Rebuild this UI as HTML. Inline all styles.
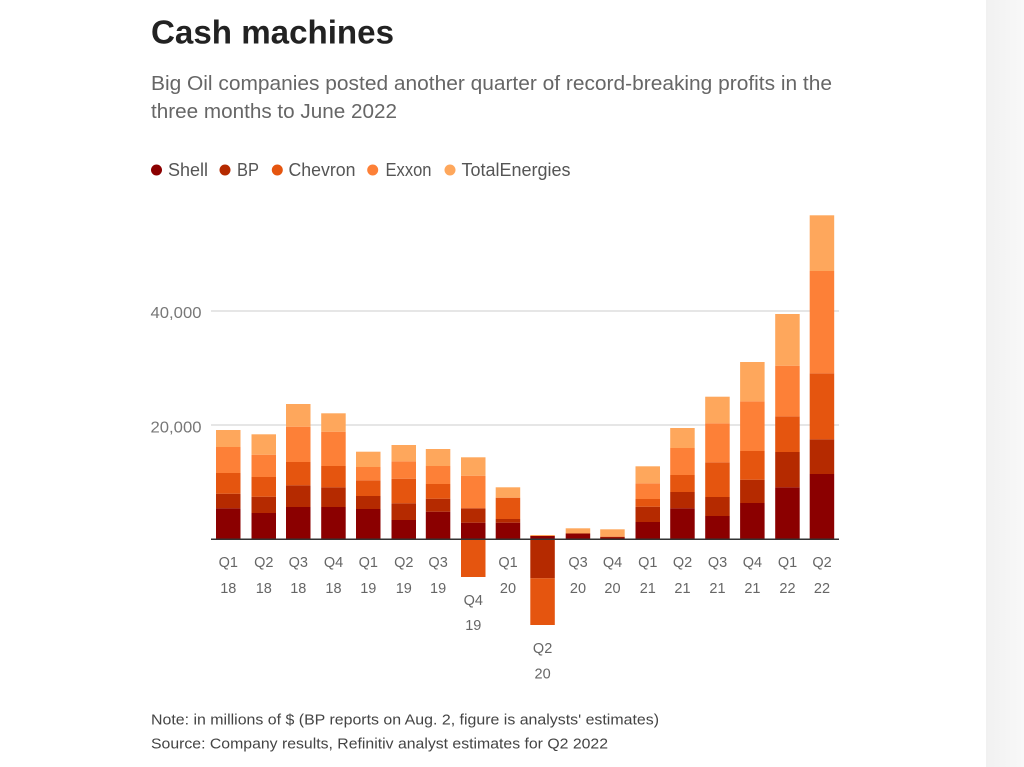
<!DOCTYPE html>
<html><head><meta charset="utf-8"><style>
html,body{margin:0;padding:0;background:#fff;}
body{width:1024px;height:767px;overflow:hidden;position:relative;}
svg{position:absolute;left:0;top:0;}
text{font-family:"Liberation Sans",sans-serif;}
</style></head><body>
<svg width="1024" height="767" viewBox="0 0 1024 767" xmlns="http://www.w3.org/2000/svg">
<defs><linearGradient id="g" x1="0" x2="1" y1="0" y2="0"><stop offset="0" stop-color="#f1f1f1"/><stop offset="1" stop-color="#f8f8f8"/></linearGradient></defs>
<rect x="986" y="0" width="38" height="767" fill="url(#g)"/>
<text x="151" y="43.5" font-size="33" font-weight="bold" fill="#222" textLength="243" lengthAdjust="spacingAndGlyphs">Cash machines</text>
<text x="151" y="90" font-size="20" fill="#666" textLength="681" lengthAdjust="spacingAndGlyphs">Big Oil companies posted another quarter of record-breaking profits in the</text>
<text x="151" y="118" font-size="20" fill="#666" textLength="246" lengthAdjust="spacingAndGlyphs">three months to June 2022</text>
<g font-size="18" fill="#555">
<circle cx="156.5" cy="170" r="5.5" fill="#8b0000"/><text x="168" y="176" textLength="40" lengthAdjust="spacingAndGlyphs">Shell</text>
<circle cx="225" cy="170" r="5.5" fill="#b52a00"/><text x="237" y="176" textLength="22" lengthAdjust="spacingAndGlyphs">BP</text>
<circle cx="277.3" cy="170" r="5.5" fill="#e5550f"/><text x="288.5" y="176" textLength="67" lengthAdjust="spacingAndGlyphs">Chevron</text>
<circle cx="372.7" cy="170" r="5.5" fill="#fd8037"/><text x="385.5" y="176" textLength="46" lengthAdjust="spacingAndGlyphs">Exxon</text>
<circle cx="450" cy="170" r="5.5" fill="#fea75c"/><text x="461.5" y="176" textLength="109" lengthAdjust="spacingAndGlyphs">TotalEnergies</text>
</g>
<line x1="211" y1="311" x2="839" y2="311" stroke="#cccccc" stroke-width="1"/>
<line x1="211" y1="425" x2="839" y2="425" stroke="#cccccc" stroke-width="1"/>
<g font-size="16" fill="#777" text-anchor="end">
<text x="201.5" y="318" textLength="51" lengthAdjust="spacingAndGlyphs">40,000</text>
<text x="201.5" y="432.5" textLength="51" lengthAdjust="spacingAndGlyphs">20,000</text>
</g>
<g>
<!-- Q1 18 -->
<rect x="216" y="508.3" width="24.5" height="30.7" fill="#8b0000"/>
<rect x="216" y="493.7" width="24.5" height="14.6" fill="#b52a00"/>
<rect x="216" y="473" width="24.5" height="20.7" fill="#e5550f"/>
<rect x="216" y="447" width="24.5" height="26" fill="#fd8037"/>
<rect x="216" y="430" width="24.5" height="17" fill="#fea75c"/>
<!-- Q2 18 -->
<rect x="251.5" y="513" width="24.5" height="26" fill="#8b0000"/>
<rect x="251.5" y="496.7" width="24.5" height="16.3" fill="#b52a00"/>
<rect x="251.5" y="477" width="24.5" height="19.7" fill="#e5550f"/>
<rect x="251.5" y="454.7" width="24.5" height="22.3" fill="#fd8037"/>
<rect x="251.5" y="434.3" width="24.5" height="20.4" fill="#fea75c"/>
<!-- Q3 18 -->
<rect x="286" y="507" width="24.5" height="32" fill="#8b0000"/>
<rect x="286" y="485.3" width="24.5" height="21.7" fill="#b52a00"/>
<rect x="286" y="462" width="24.5" height="23.3" fill="#e5550f"/>
<rect x="286" y="426.7" width="24.5" height="35.3" fill="#fd8037"/>
<rect x="286" y="404" width="24.5" height="22.7" fill="#fea75c"/>
<!-- Q4 18 -->
<rect x="321.2" y="507" width="24.5" height="32" fill="#8b0000"/>
<rect x="321.2" y="487.3" width="24.5" height="19.7" fill="#b52a00"/>
<rect x="321.2" y="466" width="24.5" height="21.3" fill="#e5550f"/>
<rect x="321.2" y="431.7" width="24.5" height="34.3" fill="#fd8037"/>
<rect x="321.2" y="413.3" width="24.5" height="18.4" fill="#fea75c"/>
<!-- Q1 19 -->
<rect x="356" y="509" width="24.5" height="30" fill="#8b0000"/>
<rect x="356" y="496" width="24.5" height="13" fill="#b52a00"/>
<rect x="356" y="480.3" width="24.5" height="15.7" fill="#e5550f"/>
<rect x="356" y="467" width="24.5" height="13.3" fill="#fd8037"/>
<rect x="356" y="451.7" width="24.5" height="15.3" fill="#fea75c"/>
<!-- Q2 19 -->
<rect x="391.5" y="520" width="24.5" height="19" fill="#8b0000"/>
<rect x="391.5" y="503.3" width="24.5" height="16.7" fill="#b52a00"/>
<rect x="391.5" y="478.7" width="24.5" height="24.6" fill="#e5550f"/>
<rect x="391.5" y="461.3" width="24.5" height="17.4" fill="#fd8037"/>
<rect x="391.5" y="445" width="24.5" height="16.3" fill="#fea75c"/>
<!-- Q3 19 -->
<rect x="425.8" y="511.7" width="24.5" height="27.3" fill="#8b0000"/>
<rect x="425.8" y="498.7" width="24.5" height="13" fill="#b52a00"/>
<rect x="425.8" y="484" width="24.5" height="14.7" fill="#e5550f"/>
<rect x="425.8" y="466" width="24.5" height="18" fill="#fd8037"/>
<rect x="425.8" y="449" width="24.5" height="17" fill="#fea75c"/>
<!-- Q4 19 -->
<rect x="461" y="522.7" width="24.5" height="16.3" fill="#8b0000"/>
<rect x="461" y="508.3" width="24.5" height="14.4" fill="#b52a00"/>
<rect x="461" y="475.7" width="24.5" height="32.6" fill="#fd8037"/>
<rect x="461" y="457.3" width="24.5" height="18.4" fill="#fea75c"/>
<rect x="461" y="539" width="24.5" height="38" fill="#e5550f"/>
<!-- Q1 20 -->
<rect x="495.7" y="522.7" width="24.5" height="16.3" fill="#8b0000"/>
<rect x="495.7" y="519" width="24.5" height="3.7" fill="#b52a00"/>
<rect x="495.7" y="497.7" width="24.5" height="21.3" fill="#e5550f"/>
<rect x="495.7" y="487.3" width="24.5" height="10.4" fill="#fea75c"/>
<!-- Q2 20 -->
<rect x="530.3" y="536" width="24.5" height="3" fill="#8b0000"/>
<rect x="530.3" y="535" width="24.5" height="1" fill="#fea75c"/>
<rect x="530.3" y="539" width="24.5" height="39.3" fill="#b52a00"/>
<rect x="530.3" y="578.3" width="24.5" height="46.7" fill="#e5550f"/>
<!-- Q3 20 -->
<rect x="565.7" y="533.5" width="24.5" height="5.5" fill="#8b0000"/>
<rect x="565.7" y="528.3" width="24.5" height="5.2" fill="#fea75c"/>
<!-- Q4 20 -->
<rect x="600.2" y="537.5" width="24.5" height="1.5" fill="#8b0000"/>
<rect x="600.2" y="536.7" width="24.5" height="0.8" fill="#b52a00"/>
<rect x="600.2" y="529.3" width="24.5" height="7.4" fill="#fea75c"/>
<!-- Q1 21 -->
<rect x="635.5" y="522" width="24.5" height="17" fill="#8b0000"/>
<rect x="635.5" y="506.7" width="24.5" height="15.3" fill="#b52a00"/>
<rect x="635.5" y="499" width="24.5" height="7.7" fill="#e5550f"/>
<rect x="635.5" y="483.3" width="24.5" height="15.7" fill="#fd8037"/>
<rect x="635.5" y="466.3" width="24.5" height="17" fill="#fea75c"/>
<!-- Q2 21 -->
<rect x="670.2" y="508.3" width="24.5" height="30.7" fill="#8b0000"/>
<rect x="670.2" y="492" width="24.5" height="16.3" fill="#b52a00"/>
<rect x="670.2" y="475" width="24.5" height="17" fill="#e5550f"/>
<rect x="670.2" y="448" width="24.5" height="27" fill="#fd8037"/>
<rect x="670.2" y="428" width="24.5" height="20" fill="#fea75c"/>
<!-- Q3 21 -->
<rect x="705.2" y="516" width="24.5" height="23" fill="#8b0000"/>
<rect x="705.2" y="497" width="24.5" height="19" fill="#b52a00"/>
<rect x="705.2" y="462.3" width="24.5" height="34.7" fill="#e5550f"/>
<rect x="705.2" y="423.3" width="24.5" height="39" fill="#fd8037"/>
<rect x="705.2" y="396.7" width="24.5" height="26.6" fill="#fea75c"/>
<!-- Q4 21 -->
<rect x="740.1" y="503" width="24.5" height="36" fill="#8b0000"/>
<rect x="740.1" y="479.7" width="24.5" height="23.3" fill="#b52a00"/>
<rect x="740.1" y="451" width="24.5" height="28.7" fill="#e5550f"/>
<rect x="740.1" y="401.3" width="24.5" height="49.7" fill="#fd8037"/>
<rect x="740.1" y="362" width="24.5" height="39.3" fill="#fea75c"/>
<!-- Q1 22 -->
<rect x="775.2" y="487.3" width="24.5" height="51.7" fill="#8b0000"/>
<rect x="775.2" y="452" width="24.5" height="35.3" fill="#b52a00"/>
<rect x="775.2" y="416.3" width="24.5" height="35.7" fill="#e5550f"/>
<rect x="775.2" y="365.7" width="24.5" height="50.6" fill="#fd8037"/>
<rect x="775.2" y="314" width="24.5" height="51.7" fill="#fea75c"/>
<!-- Q2 22 -->
<rect x="809.7" y="474" width="24.5" height="65" fill="#8b0000"/>
<rect x="809.7" y="439.3" width="24.5" height="34.7" fill="#b52a00"/>
<rect x="809.7" y="373.3" width="24.5" height="66" fill="#e5550f"/>
<rect x="809.7" y="271" width="24.5" height="102.3" fill="#fd8037"/>
<rect x="809.7" y="215.3" width="24.5" height="55.7" fill="#fea75c"/>
</g>
<line x1="211" y1="539.3" x2="839" y2="539.3" stroke="#333" stroke-width="1.5"/>
<g font-size="14.5" fill="#666" text-anchor="middle">
<text x="228.3" y="567">Q1</text><text x="228.3" y="593">18</text>
<text x="263.8" y="567">Q2</text><text x="263.8" y="593">18</text>
<text x="298.3" y="567">Q3</text><text x="298.3" y="593">18</text>
<text x="333.5" y="567">Q4</text><text x="333.5" y="593">18</text>
<text x="368.3" y="567">Q1</text><text x="368.3" y="593">19</text>
<text x="403.8" y="567">Q2</text><text x="403.8" y="593">19</text>
<text x="438.1" y="567">Q3</text><text x="438.1" y="593">19</text>
<text x="473.3" y="605">Q4</text><text x="473.3" y="630">19</text>
<text x="508" y="567">Q1</text><text x="508" y="593">20</text>
<text x="542.6" y="653">Q2</text><text x="542.6" y="678.5">20</text>
<text x="578" y="567">Q3</text><text x="578" y="593">20</text>
<text x="612.5" y="567">Q4</text><text x="612.5" y="593">20</text>
<text x="647.8" y="567">Q1</text><text x="647.8" y="593">21</text>
<text x="682.5" y="567">Q2</text><text x="682.5" y="593">21</text>
<text x="717.5" y="567">Q3</text><text x="717.5" y="593">21</text>
<text x="752.4" y="567">Q4</text><text x="752.4" y="593">21</text>
<text x="787.5" y="567">Q1</text><text x="787.5" y="593">22</text>
<text x="822" y="567">Q2</text><text x="822" y="593">22</text>
</g>
<g font-size="15" fill="#444">
<text x="151" y="724.5" textLength="508" lengthAdjust="spacingAndGlyphs">Note: in millions of $ (BP reports on Aug. 2, figure is analysts' estimates)</text>
<text x="151" y="748.5" textLength="457" lengthAdjust="spacingAndGlyphs">Source: Company results, Refinitiv analyst estimates for Q2 2022</text>
</g>
</svg>
</body></html>
